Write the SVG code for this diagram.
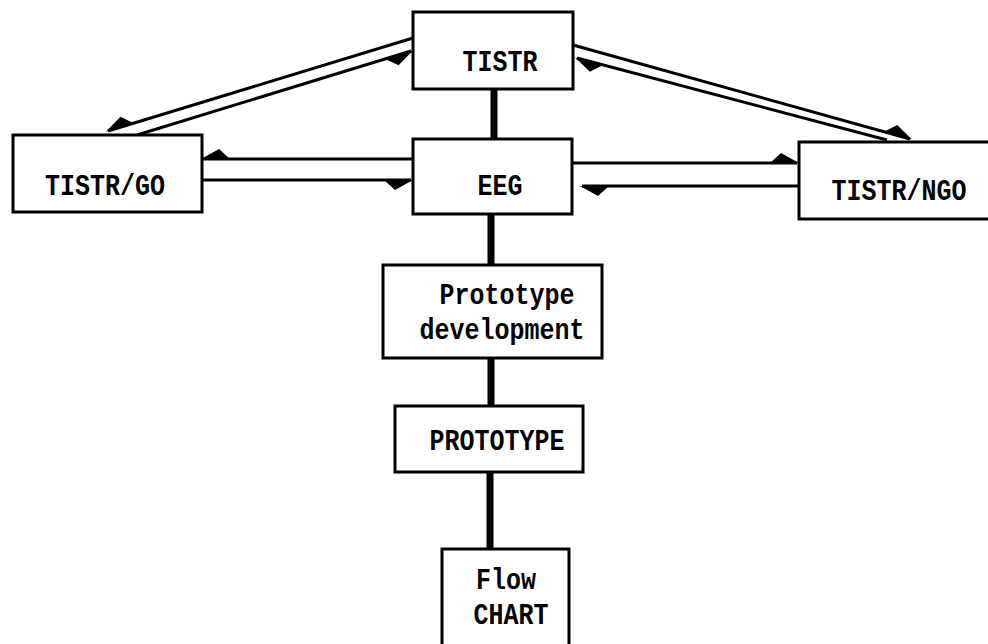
<svg xmlns="http://www.w3.org/2000/svg" width="988" height="644" viewBox="0 0 988 644">
<style>
.box{fill:#fff;stroke:#000;stroke-width:3}
.lbl{font-family:"Liberation Mono","Courier New",monospace;font-weight:bold;font-size:25px;fill:#000;text-anchor:middle}
.thin{fill:none;stroke:#000;stroke-width:3}
.thick{fill:none;stroke:#000;stroke-width:7}
</style>
<defs>
<marker id="barbP" markerUnits="userSpaceOnUse" markerWidth="40" markerHeight="40" refX="0" refY="0" orient="auto" overflow="visible">
<path d="M2,0 L-16,10 L-27,0 Z" fill="#000"/>
</marker>
<marker id="barbN" markerUnits="userSpaceOnUse" markerWidth="40" markerHeight="40" refX="0" refY="0" orient="auto" overflow="visible">
<path d="M2,0 L-16,-10 L-27,0 Z" fill="#000"/>
</marker>
</defs>
<rect width="988" height="644" fill="#fff"/>
<g id="connectors">
<path class="thick" d="M494,89 L494,139"/>
<path class="thick" d="M491,214 L491,265"/>
<path class="thick" d="M491,358 L491,406"/>
<path class="thick" d="M490,472 L490,549"/>
<path class="thin" d="M413,159 L203,159" marker-end="url(#barbP)"/>
<path class="thin" d="M202,180 L411,180" marker-end="url(#barbP)"/>
<path class="thin" d="M572,163 L797,163" marker-end="url(#barbN)"/>
<path class="thin" d="M799,186 L582,186" marker-end="url(#barbN)"/>
<path class="thin" d="M413,38 L108,131" marker-end="url(#barbP)"/>
<path class="thin" d="M137,135 L411,51" marker-end="url(#barbP)"/>
<path class="thin" d="M573,45 L910,139" marker-end="url(#barbN)"/>
<path class="thin" d="M887,140 L577,58" marker-end="url(#barbN)"/>
</g>
<g id="tistr">
<rect class="box" x="413" y="12" width="160" height="77"/>
<text class="lbl" transform="translate(500,71) scale(1,1.2)">TISTR</text>
</g>
<g id="tistr-go">
<rect class="box" x="13" y="135" width="189" height="77"/>
<text class="lbl" transform="translate(105,195) scale(1,1.2)">TISTR/GO</text>
</g>
<g id="eeg">
<rect class="box" x="413" y="139" width="159" height="75"/>
<text class="lbl" transform="translate(500,195) scale(1,1.2)">EEG</text>
</g>
<g id="tistr-ngo">
<rect class="box" x="799" y="142" width="200" height="77"/>
<text class="lbl" transform="translate(899,200) scale(1,1.2)">TISTR/NGO</text>
</g>
<g id="prototype-development">
<rect class="box" x="383" y="265" width="219" height="93"/>
<text class="lbl" transform="translate(507,304) scale(1,1.2)">Prototype</text>
<text class="lbl" transform="translate(502,339) scale(1,1.2)">development</text>
</g>
<g id="prototype">
<rect class="box" x="395" y="406" width="188" height="66"/>
<text class="lbl" transform="translate(497,450) scale(1,1.2)">PROTOTYPE</text>
</g>
<g id="flow-chart">
<rect class="box" x="442" y="549" width="127" height="110"/>
<text class="lbl" transform="translate(506,589) scale(1,1.2)">Flow</text>
<text class="lbl" transform="translate(511,624) scale(1,1.2)">CHART</text>
</g>
</svg>
